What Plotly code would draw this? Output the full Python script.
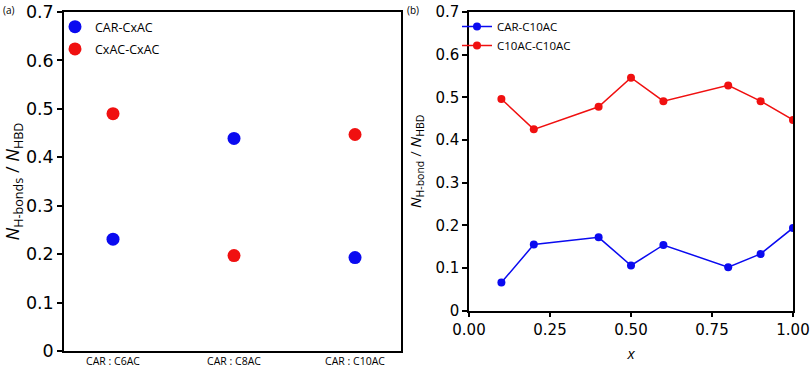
import plotly.graph_objects as go

# Panel (a)
systems = ["CAR : C6AC", "CAR : C8AC", "CAR : C10AC"]
car_cxac = [0.231, 0.439, 0.193]
cxac_cxac = [0.490, 0.197, 0.447]

# Panel (b)
x_frac = [0.1, 0.2, 0.4, 0.5, 0.6, 0.8, 0.9, 1.0]
car_c10ac = [0.066, 0.155, 0.172, 0.106, 0.154, 0.102, 0.133, 0.194]
c10ac_c10ac = [0.496, 0.425, 0.478, 0.546, 0.491, 0.528, 0.491, 0.447]

y_ticks_a = [0, 0.1, 0.2, 0.3, 0.4, 0.5, 0.6, 0.7]
y_ticklabels_a = ["0", "0.1", "0.2", "0.3", "0.4", "0.5", "0.6", "0.7"]
x_ticks_b = [0.0, 0.25, 0.5, 0.75, 1.0]
x_ticklabels_b = ["0.00", "0.25", "0.50", "0.75", "1.00"]

BLUE = "#0a0af0"
RED = "#f01010"
TICKFONT = "DejaVu Sans"

fig = go.Figure()
fig.add_trace(go.Scatter(x=[0, 1, 2], y=car_cxac, mode="markers", name="CAR-CxAC",
                         marker=dict(color=BLUE, size=13), xaxis="x", yaxis="y",
                         legend="legend", legendgroup="a1"))
fig.add_trace(go.Scatter(x=[0, 1, 2], y=cxac_cxac, mode="markers", name="CxAC-CxAC",
                         marker=dict(color=RED, size=13), xaxis="x", yaxis="y",
                         legend="legend", legendgroup="a2"))
fig.add_trace(go.Scatter(x=x_frac, y=car_c10ac, mode="lines+markers", name="CAR-C10AC",
                         marker=dict(color=BLUE, size=8), line=dict(color=BLUE, width=1.5),
                         xaxis="x2", yaxis="y2", legend="legend2"))
fig.add_trace(go.Scatter(x=x_frac, y=c10ac_c10ac, mode="lines+markers", name="C10AC-C10AC",
                         marker=dict(color=RED, size=8), line=dict(color=RED, width=1.5),
                         xaxis="x2", yaxis="y2", legend="legend2"))

axcommon = dict(showline=True, linecolor="black", linewidth=1.5, mirror=True,
                showgrid=False, zeroline=False, automargin=False)

PLOT_TOP = 12
PLOT_BOT = 351
PH = PLOT_BOT - PLOT_TOP


def py(pix):
    return (PLOT_BOT - pix) / PH


fig.update_layout(
    width=810, height=370,
    margin=dict(l=0, r=0, t=PLOT_TOP, b=370 - PLOT_BOT),
    paper_bgcolor="white", plot_bgcolor="white",
    xaxis=dict(domain=[64/810, 401/810], range=[-0.405, 2.38],
               tickvals=[0, 1, 2], ticktext=systems, ticks="",
               tickfont=dict(family="Open Sans", size=10.5, color="black"),
               anchor="y", **axcommon),
    yaxis=dict(domain=[0, 1], range=[0, 0.7], tickvals=y_ticks_a, ticktext=y_ticklabels_a,
               ticks="outside", ticklen=5, tickwidth=1.5, tickcolor="black",
               tickfont=dict(family=TICKFONT, size=17.5, color="black"),
               title=dict(text="<i>N</i><sub>H-bonds</sub> / <i>N</i><sub>HBD</sub>",
                          font=dict(family="Open Sans", size=18, color="black"), standoff=0),
               anchor="x", **axcommon),
    xaxis2=dict(domain=[469/810, 793/810], range=[0, 1.0], tickvals=x_ticks_b,
                ticktext=x_ticklabels_b, ticks="outside", ticklen=5, tickwidth=1.5,
                tickcolor="black", tickfont=dict(family=TICKFONT, size=15, color="black"),
                title=dict(text="<i>x</i>", font=dict(family="Open Sans", size=15, color="black"),
                           standoff=10),
                anchor="y2", **axcommon),
    yaxis2=dict(domain=[py(310.7), 1], range=[0, 0.7], tickvals=y_ticks_a, ticktext=y_ticklabels_a,
                ticks="outside", ticklen=5, tickwidth=1.5, tickcolor="black",
                tickfont=dict(family=TICKFONT, size=15, color="black"),
                title=dict(text="<i>N</i><sub>H-bond</sub> / <i>N</i><sub>HBD</sub>",
                           font=dict(family="Open Sans", size=15, color="black"), standoff=10),
                anchor="x2", **axcommon),
    legend=dict(x=55/810, y=py(12), xanchor="left", yanchor="top",
                font=dict(family="Open Sans", size=12.5, color="black"),
                bgcolor="rgba(0,0,0,0)", itemwidth=30, tracegroupgap=3),
    legend2=dict(x=457/810, y=py(12), xanchor="left", yanchor="top",
                 font=dict(family="Open Sans", size=11.5, color="black"),
                 bgcolor="rgba(0,0,0,0)", itemwidth=30, tracegroupgap=0),
    annotations=[
        dict(text="(a)", x=1/810, y=py(1), xref="paper", yref="paper",
             xanchor="left", yanchor="top", showarrow=False,
             font=dict(family="Open Sans", size=10, color="black")),
        dict(text="(b)", x=405/810, y=py(1), xref="paper", yref="paper",
             xanchor="left", yanchor="top", showarrow=False,
             font=dict(family="Open Sans", size=10, color="black")),
    ],
)

fig.write_html("out.html", config={"displayModeBar": False},
               post_script="document.body.style.margin='0';document.body.style.padding='0';")
